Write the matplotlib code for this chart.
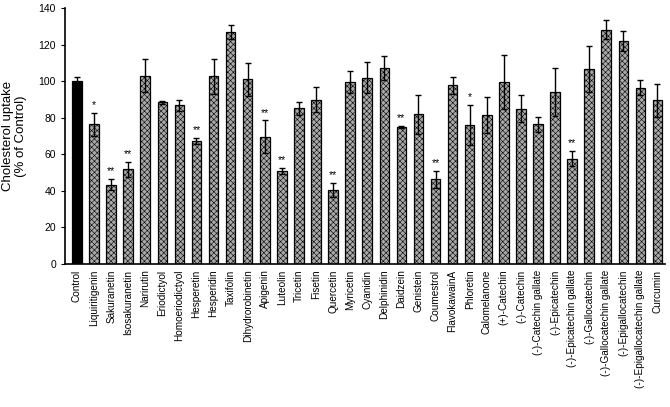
import numpy as np
import matplotlib
matplotlib.use("Agg")
import matplotlib.pyplot as plt

plt.rcParams['font.family'] = ['Liberation Sans', 'DejaVu Sans']
plt.rcParams['hatch.linewidth'] = 0.4
plt.rcParams['hatch.color'] = '#8c8c8c'

# compounds tested
compounds = ["Control", "Liquiritigenin", "Sakuranetin", "Isosakuranetin", "Narirutin",
             "Eriodictyol", "Homoeriodictyol", "Hesperetin", "Hesperidin", "Taxifolin",
             "Dihydrorobinetin", "Apigenin", "Luteolin", "Tricetin", "Fisetin",
             "Quercetin", "Myricetin", "Cyanidin", "Delphinidin", "Daidzein",
             "Genistein", "Coumestrol", "FlavokawainA", "Phloretin", "Calomelanone",
             "(+)-Catechin", "(-)-Catechin", "(-)-Catechin gallate", "(-)-Epicatechin",
             "(-)-Epicatechin gallate", "(-)-Gallocatechin", "(-)-Gallocatechin gallate",
             "(-)-Epigallocatechin", "(-)-Epigallocatechin gallate", "Curcumin"]

# uptake as % of control
uptake = [100.2, 76.4, 43.4, 51.8, 103.0, 88.4, 86.8, 67.3, 102.7, 126.9,
          101.0, 69.5, 50.9, 85.2, 89.9, 40.5, 99.7, 101.9, 107.4, 74.8,
          81.9, 46.3, 97.7, 76.0, 81.5, 99.6, 85.0, 76.4, 93.9, 57.6,
          106.5, 128.2, 122.0, 96.5, 89.5]

# error bars (SD)
errors = [1.8, 6.4, 3.0, 4.2, 9.0, 1.0, 2.9, 1.8, 9.6, 3.7,
          9.0, 9.0, 1.8, 3.6, 7.0, 3.8, 6.0, 8.4, 6.6, 0.6,
          10.7, 4.6, 4.6, 10.8, 9.7, 14.6, 7.6, 4.2, 13.2, 4.2,
          12.6, 5.4, 5.6, 4.1, 9.1]

# significance marks
signif = ["", "*", "**", "**", "", "", "", "**", "", "",
          "", "**", "**", "", "", "**", "", "", "", "**",
          "", "**", "", "*", "", "", "", "", "", "**",
          "", "", "", "", ""]

fig = plt.figure(figsize=(6.7, 4.07), dpi=100)
ax = fig.add_axes([65 / 670, 1 - 264 / 407, 600 / 670, 256 / 407])

x = np.arange(len(compounds))
colors = ['black'] + ['#a9a9a9'] * (len(compounds) - 1)
bars = ax.bar(x, uptake, width=0.56, color=colors, edgecolor='black', linewidth=0.9)
for b in bars[1:]:
    b.set_hatch('xxxxxx')

ax.errorbar(x, uptake, yerr=errors, fmt='none', ecolor='black', elinewidth=1.0,
            capsize=2.5, capthick=1.0)

# add the stars above the error bars
for i in range(len(x)):
    if signif[i] != "":
        ax.text(x[i], uptake[i] + errors[i] + 1.5, signif[i], ha='center', va='bottom',
                fontsize=7.5)

ax.set_xlim(-0.7, len(compounds) - 0.56)
ax.set_ylim(0, 140)
ax.set_yticks(range(0, 141, 20))
ax.set_xticks(x)
ax.set_xticklabels(compounds, rotation=90, fontsize=7.2)
ax.tick_params(axis='x', length=0, pad=4)
ax.tick_params(axis='y', labelsize=7.5, direction='out', length=3)
ax.spines['top'].set_visible(False)
ax.spines['right'].set_visible(False)
ax.spines['left'].set_linewidth(1.2)
ax.spines['bottom'].set_linewidth(1.2)
ax.set_ylabel("Cholesterol uptake\n(% of Control)", fontsize=9.5, labelpad=8)

fig.savefig("out.png", dpi=100)
